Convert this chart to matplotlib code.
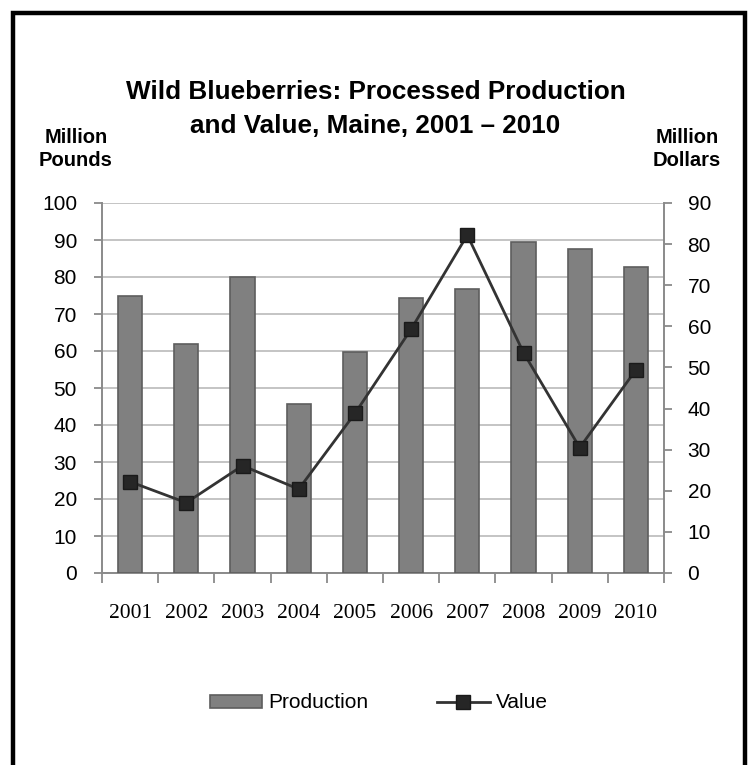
import matplotlib
matplotlib.use("Agg")
import matplotlib.pyplot as plt
from matplotlib.patches import Rectangle
from matplotlib.lines import Line2D

# Data
years = ["2001", "2002", "2003", "2004", "2005", "2006", "2007", "2008", "2009", "2010"]
production_mlb = [75.0, 62.0, 80.0, 45.7, 59.8, 74.2, 76.8, 89.5, 87.6, 82.6]   # million pounds
value_musd = [22.2, 17.1, 26.1, 20.4, 38.8, 59.3, 82.2, 53.6, 30.5, 49.4]       # million dollars
left_ticks = list(range(0, 101, 10))
right_ticks = list(range(0, 91, 10))

SANS = "Liberation Sans"
SERIF = "Liberation Serif"
AXIS_GRAY = "#8a8a8a"
GRID_GRAY = "#c4c4c4"
BAR_FACE = "#808080"
BAR_EDGE = "#5e5e5e"
LINE_DARK = "#333333"

W, H = 751, 765
fig = plt.figure(figsize=(W / 100, H / 100), dpi=100)
fig.patch.set_facecolor("white")

# Outer frame (open at the bottom edge of the canvas)
fig.patches.append(Rectangle((13 / W, -0.05), (745 - 13) / W, (H - 13) / H + 0.05,
                             transform=fig.transFigure, fill=False,
                             edgecolor="black", linewidth=3.2, zorder=10))

ax = fig.add_axes([102 / W, (H - 573) / H, (664 - 102) / W, 370 / H])
x = list(range(len(years)))

ax.bar(x, production_mlb, width=0.43, color=BAR_FACE, edgecolor=BAR_EDGE,
       linewidth=1.2, zorder=3, label="Production")
ax.set_xlim(-0.5, len(years) - 0.5)
ax.set_ylim(0, 100)
ax.set_yticks(left_ticks)
ax.yaxis.grid(True, color=GRID_GRAY, linewidth=1.4, zorder=0)
ax.set_axisbelow(True)

# Category boundaries carry the tick marks; labels sit at category centres
ax.set_xticks([i - 0.5 for i in range(len(years) + 1)])
ax.set_xticklabels([])
ax.set_xticks(x, minor=True)
ax.set_xticklabels(years, minor=True, fontfamily=SERIF, fontsize=15.5)
ax.tick_params(axis="x", which="minor", length=0, pad=22)
ax.tick_params(axis="x", which="major", length=7, width=1.3, color=AXIS_GRAY)
ax.tick_params(axis="y", length=6, width=1.3, color=AXIS_GRAY, pad=12, labelsize=15)
for lab in ax.get_yticklabels():
    lab.set_fontfamily(SANS)

for side in ("top", "right"):
    ax.spines[side].set_visible(False)
for side in ("left", "bottom"):
    ax.spines[side].set_color(AXIS_GRAY)
    ax.spines[side].set_linewidth(1.4)

ax2 = ax.twinx()
ax2.plot(x, value_musd, color=LINE_DARK, linewidth=2.0, marker="s", markersize=10.5,
         markerfacecolor="#262626", markeredgecolor="#1a1a1a", zorder=5, label="Value")
ax2.set_ylim(0, 90)
ax2.set_yticks(right_ticks)
ax2.tick_params(axis="y", length=6, width=1.3, color=AXIS_GRAY, pad=11, labelsize=15)
for lab in ax2.get_yticklabels():
    lab.set_fontfamily(SANS)
for side in ("top", "left", "bottom"):
    ax2.spines[side].set_visible(False)
ax2.spines["right"].set_color(AXIS_GRAY)
ax2.spines["right"].set_linewidth(1.4)

# Title and axis captions
fig.text(0.5, 1 - 109 / H, "Wild Blueberries: Processed Production\nand Value, Maine, 2001 \u2013 2010",
         ha="center", va="center", fontfamily=SANS, fontweight="bold", fontsize=18.8,
         linespacing=1.55)
fig.text(76 / W, 1 - 149 / H, "Million\nPounds", ha="center", va="center",
         fontfamily=SANS, fontweight="bold", fontsize=14.5, linespacing=1.3)
fig.text(687 / W, 1 - 149 / H, "Million\nDollars", ha="center", va="center",
         fontfamily=SANS, fontweight="bold", fontsize=14.5, linespacing=1.3)

# Legend
handles = [Rectangle((0, 0), 1, 1, facecolor=BAR_FACE, edgecolor=BAR_EDGE, linewidth=1.2),
           Line2D([], [], color=LINE_DARK, linewidth=2.0, marker="s", markersize=10.5,
                  markerfacecolor="#262626", markeredgecolor="#1a1a1a")]
fig.legend(handles, ["Production", "Value"], loc="center", bbox_to_anchor=(379 / W, 1 - 703 / H),
           ncol=2, frameon=False, prop={"family": SANS, "size": 15},
           handlelength=2.5, handleheight=0.6, handletextpad=0.3, columnspacing=3.3)

fig.savefig("out.png", dpi=100, facecolor="white")
